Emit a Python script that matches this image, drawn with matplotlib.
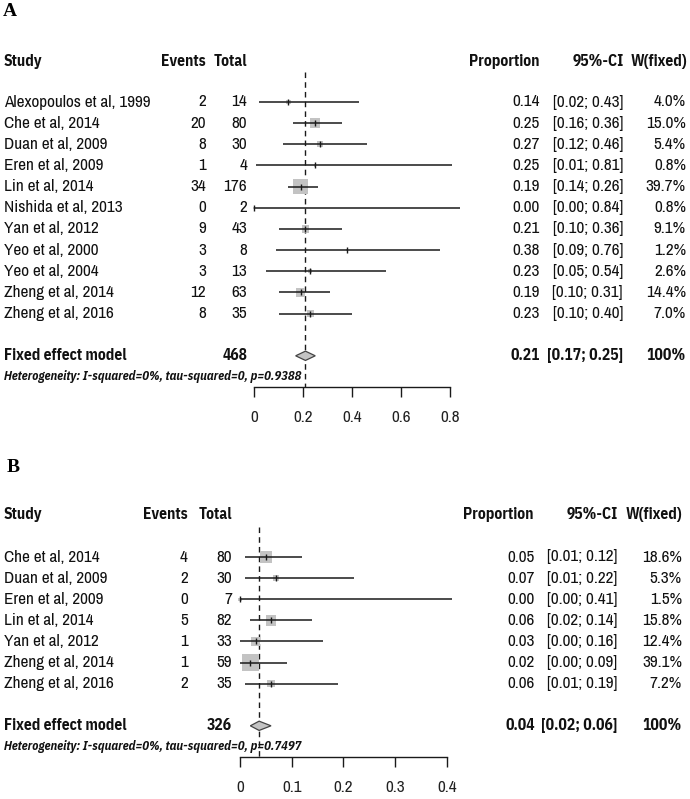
import matplotlib
matplotlib.use("Agg")
import matplotlib.pyplot as plt
from matplotlib.transforms import blended_transform_factory

# ---------------- data ----------------
studies_a = ["Alexopoulos et al, 1999", "Che et al, 2014", "Duan et al, 2009", "Eren et al, 2009",
             "Lin et al, 2014", "Nishida et al, 2013", "Yan et al, 2012", "Yeo et al, 2000",
             "Yeo et al, 2004", "Zheng et al, 2014", "Zheng et al, 2016"]
events_a = [2, 20, 8, 1, 34, 0, 9, 3, 3, 12, 8]
totals_a = [14, 80, 30, 4, 176, 2, 43, 8, 13, 63, 35]
prop_a = [0.14, 0.25, 0.27, 0.25, 0.19, 0.00, 0.21, 0.38, 0.23, 0.19, 0.23]
lower_a = [0.02, 0.16, 0.12, 0.01, 0.14, 0.00, 0.10, 0.09, 0.05, 0.10, 0.10]
upper_a = [0.43, 0.36, 0.46, 0.81, 0.26, 0.84, 0.36, 0.76, 0.54, 0.31, 0.40]
weight_a = [4.0, 15.0, 5.4, 0.8, 39.7, 0.8, 9.1, 1.2, 2.6, 14.4, 7.0]
pooled_a = [0.21, 0.17, 0.25]   # estimate, lower, upper
total_a = 468
het_a = "Heterogeneity: I-squared=0%, tau-squared=0, p=0.9388"
ticks_a = [0, 0.2, 0.4, 0.6, 0.8]
ticklabels_a = ["0", "0.2", "0.4", "0.6", "0.8"]

studies_b = ["Che et al, 2014", "Duan et al, 2009", "Eren et al, 2009", "Lin et al, 2014",
             "Yan et al, 2012", "Zheng et al, 2014", "Zheng et al, 2016"]
events_b = [4, 2, 0, 5, 1, 1, 2]
totals_b = [80, 30, 7, 82, 33, 59, 35]
prop_b = [0.05, 0.07, 0.00, 0.06, 0.03, 0.02, 0.06]
lower_b = [0.01, 0.01, 0.00, 0.02, 0.00, 0.00, 0.01]
upper_b = [0.12, 0.22, 0.41, 0.14, 0.16, 0.09, 0.19]
weight_b = [18.6, 5.3, 1.5, 15.8, 12.4, 39.1, 7.2]
pooled_b = [0.037, 0.02, 0.06]
total_b = 326
het_b = "Heterogeneity: I-squared=0%, tau-squared=0, p=0.7497"
ticks_b = [0, 0.1, 0.2, 0.3, 0.4]
ticklabels_b = ["0", "0.1", "0.2", "0.3", "0.4"]

# ---------------- style ----------------
W, H = 690, 799
FAM = ["Archivo Narrow", "Liberation Sans", "DejaVu Sans"]
FAM_B = ["IBM Plex Sans Condensed", "Liberation Sans", "DejaVu Sans"]
FS = 12.4
FS_B = 11.2
HET_FS = 9.0
GREY = "#c3c3c3"
LINEC = "#1a1a1a"

fig = plt.figure(figsize=(W / 100, H / 100), dpi=100)


def panel(label, label_xy, studies, events, totals, prop, lower, upper, weight, pooled,
          total, het, ticks, ticklabels, zero_px, unit_px, xlim, row0_px, row_px, axis_row,
          header_row, cols, max_box_px):
    left_px = zero_px + xlim[0] * unit_px
    right_px = zero_px + xlim[1] * unit_px
    top_row = -2.6
    top_px = row0_px + top_row * row_px
    bot_px = row0_px + axis_row * row_px
    ax = fig.add_axes([left_px / W, 1 - bot_px / H, (right_px - left_px) / W, (bot_px - top_px) / H])
    ax.set_xlim(*xlim)
    ax.set_ylim(axis_row, top_row)
    ax.patch.set_alpha(0)
    for s in ["top", "right", "left"]:
        ax.spines[s].set_visible(False)
    ax.spines["bottom"].set_bounds(ticks[0], ticks[-1])
    ax.spines["bottom"].set_linewidth(1.0)
    ax.spines["bottom"].set_color(LINEC)
    ax.set_yticks([])
    ax.set_xticks(ticks)
    ax.set_xticklabels(ticklabels, fontsize=FS, family=FAM, color="#222222")
    ax.tick_params(axis="x", direction="out", length=7.2, width=1.0, pad=9, color=LINEC)

    n = len(studies)
    rows = list(range(n))
    pooled_row = n + 1
    het_row = n + 2

    ax.plot([pooled[0], pooled[0]], [-1.4, axis_row], color=LINEC, lw=1.0,
            linestyle=(0, (4, 3)), clip_on=False, zorder=1)

    wmax = max(weight)
    sizes = [((max_box_px * (w / wmax) ** 0.5) * 0.72) ** 2 for w in weight]
    ax.scatter(prop, rows, s=sizes, marker="s", color=GREY, linewidths=0, zorder=2, clip_on=False)
    ax.hlines(rows, lower, upper, color=LINEC, lw=1.1, zorder=3, clip_on=False)
    ax.plot(prop, rows, linestyle="none", marker="|", markersize=4.5, mew=1.0, color=LINEC,
            zorder=4, clip_on=False)

    est, lo, hi = pooled
    h = 0.22
    ax.fill([lo, est, hi, est], [pooled_row, pooled_row - h, pooled_row, pooled_row + h],
            facecolor=GREY, edgecolor="#444444", lw=0.9, zorder=3, clip_on=False)

    tr = blended_transform_factory(fig.transFigure, ax.transData)

    def txt(xpx, row, s, ha, bold=False, style="normal", size=None):
        fam = FAM_B if bold else FAM
        sz = size if size is not None else (FS_B if bold else FS)
        ax.text(xpx / W, row, s, transform=tr, ha=ha, va="center", fontsize=sz,
                family=fam, fontweight="bold" if bold else "normal", fontstyle=style,
                color="#111111", clip_on=False)

    c = cols
    txt(c["study"], header_row, "Study", "left", True)
    txt(c["events"], header_row, "Events", "right", True)
    txt(c["total"], header_row, "Total", "right", True)
    txt(c["prop_h"], header_row, "Proportion", "right", True)
    txt(c["ci_h"], header_row, "95%-CI", "right", True)
    txt(c["w_h"], header_row, "W(fixed)", "right", True)

    for i in range(n):
        txt(c["study"], i, studies[i], "left")
        txt(c["events"], i, str(events[i]), "right")
        txt(c["total"], i, str(totals[i]), "right")
        txt(c["prop"], i, f"{prop[i]:.2f}", "right")
        txt(c["ci"], i, f"[{lower[i]:.2f}; {upper[i]:.2f}]", "right")
        txt(c["w"], i, f"{weight[i]:.1f}%", "right")

    txt(c["study"], pooled_row, "Fixed effect model", "left", True)
    txt(c["total"], pooled_row, str(total), "right", True)
    txt(c["prop"], pooled_row, f"{pooled[0]:.2f}", "right", True)
    txt(c["ci"], pooled_row, f"[{pooled[1]:.2f}; {pooled[2]:.2f}]", "right", True)
    txt(c["w"], pooled_row, "100%", "right", True)

    txt(c["study"], het_row, het, "left", True, "italic", HET_FS)

    fig.text(label_xy[0] / W, 1 - label_xy[1] / H, label, ha="center", va="center",
             fontsize=14, fontweight="bold", family=["Liberation Serif", "DejaVu Serif"])
    return ax


panel("A", (10, 12), studies_a, events_a, totals_a, prop_a, lower_a, upper_a, weight_a, pooled_a,
      total_a, het_a, ticks_a, ticklabels_a, zero_px=254, unit_px=245, xlim=(-0.02, 0.9),
      row0_px=102, row_px=21.15, axis_row=13.48, header_row=-1.9,
      cols=dict(study=4, events=206, total=247, prop=540, ci=623, w=686,
                prop_h=539, ci_h=624, w_h=687), max_box_px=15.5)

panel("B", (13, 467), studies_b, events_b, totals_b, prop_b, lower_b, upper_b, weight_b, pooled_b,
      total_b, het_b, ticks_b, ticklabels_b, zero_px=240, unit_px=517, xlim=(-0.01, 0.45),
      row0_px=557, row_px=21.1, axis_row=9.48, header_row=-2.0,
      cols=dict(study=4, events=188, total=232, prop=535, ci=617, w=682,
                prop_h=533, ci_h=618, w_h=682), max_box_px=16.5)

fig.savefig("out.png", dpi=100)
